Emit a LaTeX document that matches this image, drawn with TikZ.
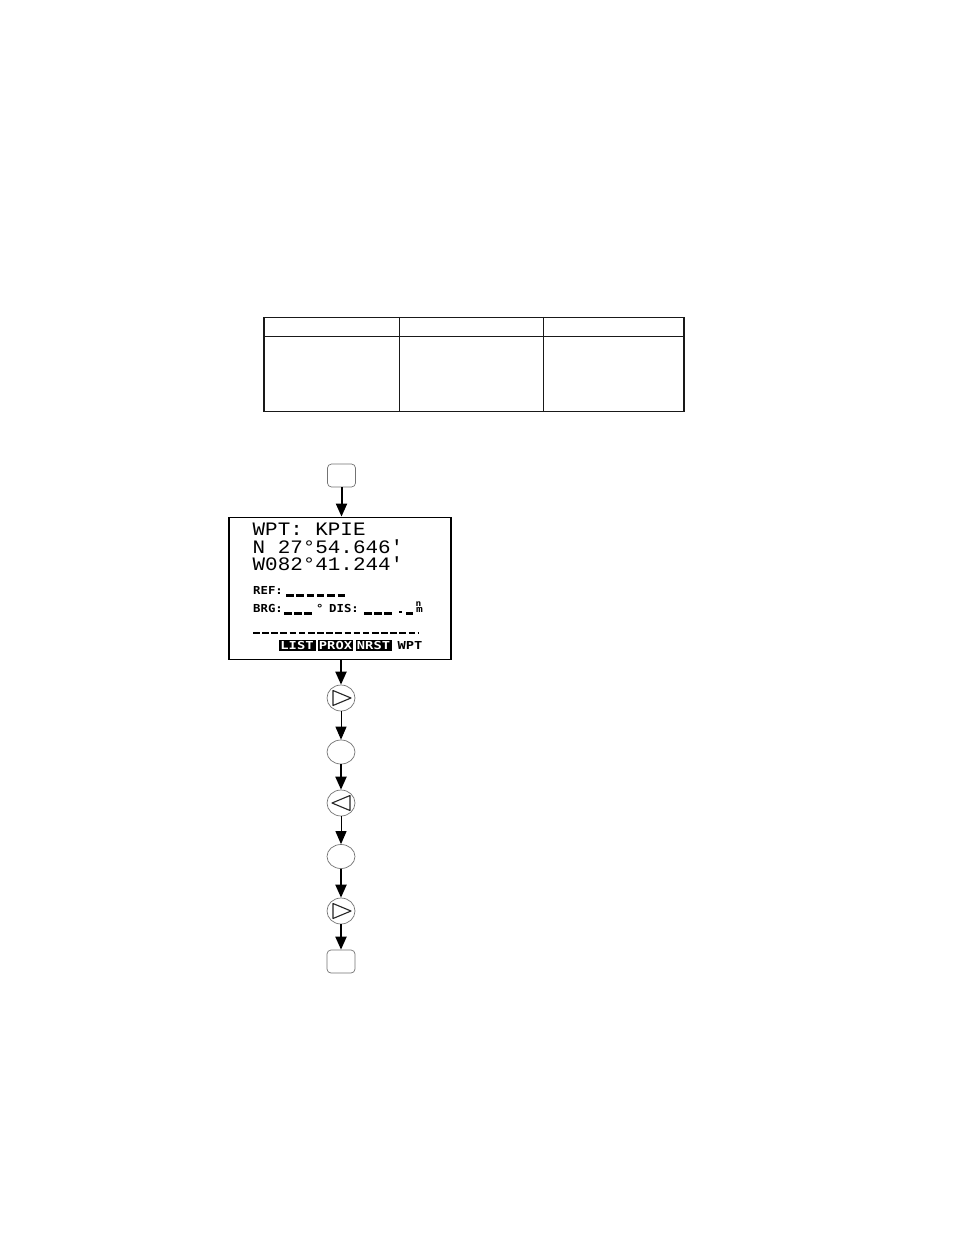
\documentclass[tikz,border=0pt]{standalone}
\usepackage{fontspec}
\newfontfamily\lcd[FakeStretch=1.1]{Liberation Mono}
\newfontfamily\pix[FakeStretch=1.12]{DejaVu Sans Mono}
\newfontfamily\pixwide[FakeStretch=1.25]{DejaVu Sans Mono}
\usetikzlibrary{shapes.geometric,arrows.meta,calc}
\tikzset{
  tablebox/.style={draw=black!90, line width=1.3pt, rectangle, inner sep=0, minimum width=420pt, minimum height=94pt},
  tabline/.style={draw=black!90, line width=1.3pt},
  screenbox/.style={draw=black, line width=1.8pt, rectangle, inner sep=0, minimum width=222pt, minimum height=142pt},
  keyrect/.style={draw=black!55, line width=0.7pt, rectangle, rounded corners=4pt, inner sep=0, minimum width=28pt, minimum height=23pt},
  keyell/.style={draw=black!55, line width=0.7pt, ellipse, inner sep=0, minimum width=28pt, minimum height=26pt},
  keyblank/.style={keyell, minimum height=24pt},
  tri/.style={draw=black!85, line width=1.1pt, line join=round},
  thickarr/.style={draw=black, line width=2pt, -{Triangle[length=13pt,width=11pt]}},
  thinarr/.style={draw=black, line width=1pt, -{Triangle[length=13pt,width=11pt]}},
  biglcd/.style={anchor=base west, inner sep=0, text height=13pt, text depth=0.5pt, font=\lcd\fontsize{19}{19}\selectfont},
  smallpix/.style={anchor=base west, inner sep=0, font=\pix\bfseries\fontsize{11}{11}\selectfont},
  ph/.style={draw=black, line width=2.4pt},
  softkey/.style={fill=black, text=white, inner sep=0, minimum width=36pt, minimum height=11.5pt, font=\pixwide\bfseries\fontsize{11}{11}\selectfont}
}
\begin{document}
\begin{tikzpicture}[x=1pt,y=-1pt]
\useasboundingbox[fill=white] (0,0) rectangle (954,1235);
% table
\node[tablebox] (tbl) at (474,364.5) {};
\draw[tabline] ([yshift=-19.5pt]tbl.north west) -- ([yshift=-19.5pt]tbl.north east);
\draw[tabline] ([xshift=136pt]tbl.north west) -- ([xshift=136pt]tbl.south west);
\draw[tabline] ([xshift=280pt]tbl.north west) -- ([xshift=280pt]tbl.south west);
% keys
\node[keyrect] (k1) at (341.5,475.5) {};
\node[screenbox] (screen) at (340,588.5) {};
\node[keyell] (k2) at (341,698) {};
\node[keyblank] (k3) at (341,752) {};
\node[keyell] (k4) at (341,803) {};
\node[keyblank] (k5) at (341,856.5) {};
\node[keyell] (k6) at (341,911) {};
\node[keyrect] (k7) at (341,961.5) {};
% triangles in keys
\draw[tri] ($(k2)+(-8,-7.5)$) -- ($(k2)+(10,0)$) -- ($(k2)+(-8,7.5)$) -- cycle;
\draw[tri] ($(k4)+(9,-7.5)$) -- ($(k4)+(-9,0)$) -- ($(k4)+(9,7.5)$) -- cycle;
\draw[tri] ($(k6)+(-8,-7.5)$) -- ($(k6)+(10,0)$) -- ($(k6)+(-8,7.5)$) -- cycle;
% arrows
\draw[thickarr] (k1.south) -- (k1.south |- screen.north);
\draw[thickarr] (k2.north |- screen.south) -- (k2.north);
\draw[thinarr] (k2.south) -- (k3.north);
\draw[thickarr] (k3.south) -- (k4.north);
\draw[thinarr] (k4.south) -- (k5.north);
\draw[thickarr] (k5.south) -- (k6.north);
\draw[thickarr] (k6.south) -- (k7.north);
% screen contents
\node[biglcd] (l1) at (252.5,535) {WPT: KPIE};
\node[biglcd] (l2) at (252.5,553.3) {N 27°54.646'};
\node[biglcd] (l3) at (252.5,570.5) {W082°41.244'};
\node[smallpix] (ref) at (253,594.5) {REF:};
\draw[ph, dash pattern=on 7.5pt off 2.8pt] (286,595.5) -- (347,595.5);
\node[smallpix] (brg) at (253,612) {BRG:};
\draw[ph, dash pattern=on 7.5pt off 2.5pt] (284,613.5) -- (314,613.5);
\node[smallpix] (deg) at (316,612) {°};
\node[smallpix] (dis) at (329,612) {DIS:};
\draw[ph, dash pattern=on 7.5pt off 2.5pt] (364,613.5) -- (394,613.5);
\fill (398.8,610.5) rectangle (401.5,613);
\draw[ph] (406,613.5) -- (413,613.5);
\node[anchor=base, inner sep=0, text height=5pt, text depth=0pt, font=\pix\bfseries\fontsize{8.5}{8.5}\selectfont] (nn) at (418.5,606) {n};
\node[anchor=base, inner sep=0, text height=6pt, text depth=0pt, font=\pixwide\bfseries\fontsize{9}{9}\selectfont] (mm) at (419.5,612.5) {m};
\draw[ph, dash pattern=on 6.6pt off 2.55pt] (253,633) -- (418,633);
\node[softkey, minimum width=37pt] (list) at (297,645.5) {LIST};
\node[softkey, minimum width=35pt] (prox) at (335.5,645.5) {PROX};
\node[softkey, minimum width=36pt] (nrst) at (373.5,645.5) {NRST};
\node[anchor=center, inner sep=0, font=\pixwide\bfseries\fontsize{11}{11}\selectfont] (wpt) at (410,645.5) {WPT};
\end{tikzpicture}
\end{document}
